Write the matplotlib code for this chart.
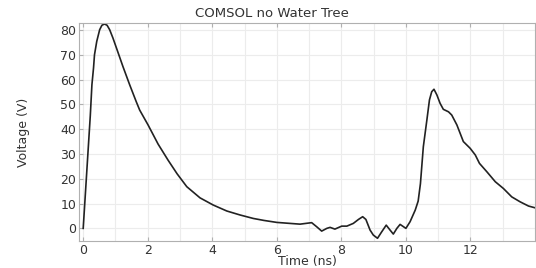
import numpy as np
import matplotlib.pyplot as plt

# Voltage trace
time_ns = [0.0, 0.22, 0.27, 0.32, 0.35, 0.42, 0.51, 0.58, 0.66, 0.74, 0.82,
           0.92, 1.05, 1.23, 1.44, 1.64, 1.75, 2.01, 2.32, 2.63, 2.91, 3.21,
           3.62, 4.03, 4.45, 4.86, 5.27, 5.6, 6.0, 6.51, 6.72, 7.08, 7.24,
           7.39, 7.55, 7.65, 7.8, 8.01, 8.17, 8.37, 8.53, 8.66, 8.76, 8.89,
           8.99, 9.12, 9.25, 9.39, 9.51, 9.61, 9.72, 9.82, 10.0, 10.13, 10.29,
           10.38, 10.45, 10.54, 10.65, 10.73, 10.8, 10.87, 10.96, 11.06, 11.16,
           11.32, 11.42, 11.58, 11.78, 11.99, 12.15, 12.28, 12.51, 12.77,
           13.02, 13.28, 13.54, 13.8, 14.0]
voltage = [0.0, 45.5, 57.9, 64.7, 70.0, 75.4, 80.1, 81.9, 82.4, 81.9, 80.1,
           76.8, 72.0, 65.3, 57.9, 51.2, 47.7, 41.7, 34.0, 27.5, 22.0, 16.8,
           12.3, 9.4, 7.0, 5.4, 4.0, 3.2, 2.4, 1.9, 1.7, 2.3, 0.6,
           -1.1, 0.0, 0.4, -0.3, 0.9, 0.9, 2.0, 3.6, 4.7, 3.6, -0.7,
           -2.7, -4.0, -1.4, 1.3, -0.7, -2.3, 0.0, 1.6, 0.0, 2.7, 7.4,
           11.0, 18.0, 32.9, 43.7, 51.8, 55.1, 56.1, 53.8, 50.4, 48.0,
           47.0, 45.7, 41.7, 35.0, 32.3, 29.6, 26.2, 22.8, 18.8,
           16.1, 12.7, 10.7, 9.0, 8.3]

xticks = [0, 2, 4, 6, 8, 10, 12]
yticks = [0, 10, 20, 30, 40, 50, 60, 70, 80]

text_col = '#333333'

fig = plt.figure(figsize=(5.36, 2.68), dpi=100)
ax = fig.add_axes([0.1474, 0.1007, 0.8507, 0.8134])

ax.plot(time_ns, voltage, color='#222222', lw=1.2, solid_joinstyle='round')

ax.set_xlim(-0.13, 14.0)
ax.set_ylim(-5.1, 82.8)
ax.set_xticks(xticks)
ax.set_xticks(np.arange(1, 14, 2), minor=True)
ax.set_yticks(yticks)

ax.grid(True, which='both', color='#ececec', lw=0.8)
ax.set_axisbelow(True)

for s in ax.spines.values():
    s.set_color('#b0b0b0')
    s.set_linewidth(0.8)

ax.tick_params(which='both', direction='in', length=3, color='#b0b0b0',
               top=True, labelsize=9, labelcolor=text_col, pad=2)
ax.tick_params(which='minor', length=0)

# title sits left of the axes centre in the original
fig.text(0.507, 0.95, 'COMSOL no Water Tree', fontsize=9.5, color=text_col,
         ha='center', va='center')
ax.set_xlabel('Time (ns)', fontsize=9, color=text_col, labelpad=-1.5)
ax.set_ylabel('Voltage (V)', fontsize=9, color=text_col, labelpad=22)

fig.savefig('out.png', dpi=100)
